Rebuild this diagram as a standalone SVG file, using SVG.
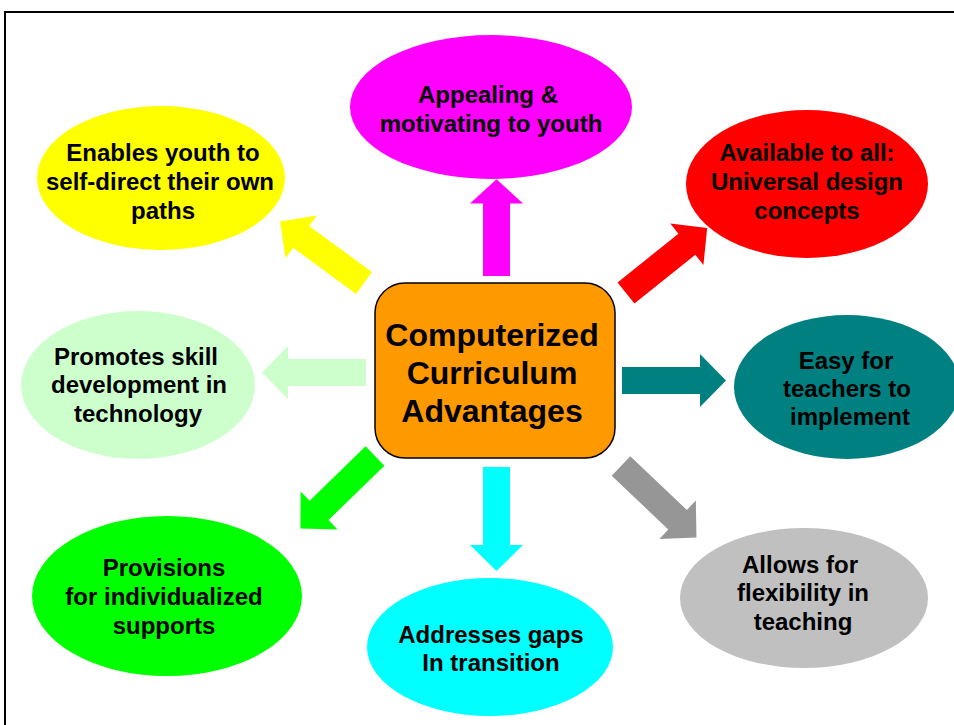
<svg xmlns="http://www.w3.org/2000/svg" width="954" height="725" viewBox="0 0 954 725">
<style>
.t{font-family:"Liberation Sans",Arial,sans-serif;font-weight:bold;font-size:24px;fill:#000;text-anchor:middle}
.c{font-size:32px}
</style>
<defs>
<polygon id="arr" points="0,-13.5 78,-13.5 78,-26.5 104,0 78,26.5 78,13.5 0,13.5"/>
</defs>
<rect width="954" height="725" fill="#fff"/>
<rect x="5" y="12" width="970" height="730" fill="none" stroke="#000" stroke-width="2"/>
<g id="connectors">
<use href="#arr" fill="#FF00FF" transform="translate(496.5,276) rotate(-90) scale(0.93,1)"/>
<use href="#arr" fill="#FF0000" transform="translate(626,293) rotate(-38.7)"/>
<use href="#arr" fill="#008080" transform="translate(622,380.5)"/>
<use href="#arr" fill="#969696" transform="translate(621,466) rotate(43.5)"/>
<use href="#arr" fill="#00FFFF" transform="translate(496.5,467) rotate(90)"/>
<use href="#arr" fill="#00FF00" transform="translate(375,456) rotate(135.8)"/>
<use href="#arr" fill="#CCFFCC" transform="translate(366,372.5) rotate(180)"/>
<use href="#arr" fill="#FFFF00" transform="translate(364,283) rotate(216.3)"/>
</g>
<g id="center">
<rect x="375" y="283" width="240" height="175" rx="30" fill="#FF9900" stroke="#000" stroke-width="1.5"/>
<text class="t c" x="492" y="346">Computerized</text>
<text class="t c" x="492" y="384">Curriculum</text>
<text class="t c" x="492" y="422">Advantages</text>
</g>
<g id="appealing">
<ellipse cx="491" cy="107" rx="141" ry="72" fill="#FF00FF"/>
<text class="t" x="488" y="103">Appealing &amp;</text>
<text class="t" x="491" y="132">motivating to youth</text>
</g>
<g id="available">
<ellipse cx="807" cy="184" rx="121" ry="74" fill="#FF0000"/>
<text class="t" x="807" y="161">Available to all:</text>
<text class="t" x="807" y="190">Universal design</text>
<text class="t" x="807" y="219">concepts</text>
</g>
<g id="easy">
<ellipse cx="847" cy="387" rx="113" ry="72" fill="#008080"/>
<text class="t" x="846" y="369">Easy for</text>
<text class="t" x="847" y="397">teachers to</text>
<text class="t" x="850" y="425">implement</text>
</g>
<g id="allows">
<ellipse cx="804" cy="598" rx="124" ry="70" fill="#C0C0C0"/>
<text class="t" x="800" y="573">Allows for</text>
<text class="t" x="803" y="601">flexibility in</text>
<text class="t" x="803" y="630">teaching</text>
</g>
<g id="addresses">
<ellipse cx="490" cy="647" rx="123" ry="69" fill="#00FFFF"/>
<text class="t" x="491" y="643">Addresses gaps</text>
<text class="t" x="491" y="671">In transition</text>
</g>
<g id="provisions">
<ellipse cx="167" cy="596" rx="135" ry="80" fill="#00FF00"/>
<text class="t" x="164" y="576">Provisions</text>
<text class="t" x="164" y="605">for individualized</text>
<text class="t" x="164" y="634">supports</text>
</g>
<g id="promotes">
<ellipse cx="138" cy="385" rx="117" ry="74" fill="#CCFFCC"/>
<text class="t" x="136" y="365">Promotes skill</text>
<text class="t" x="139" y="393">development in</text>
<text class="t" x="138" y="422">technology</text>
</g>
<g id="enables">
<ellipse cx="161" cy="178" rx="124" ry="72" fill="#FFFF00"/>
<text class="t" x="163" y="161">Enables youth to</text>
<text class="t" x="160" y="190">self-direct their own</text>
<text class="t" x="163" y="219">paths</text>
</g>
</svg>
